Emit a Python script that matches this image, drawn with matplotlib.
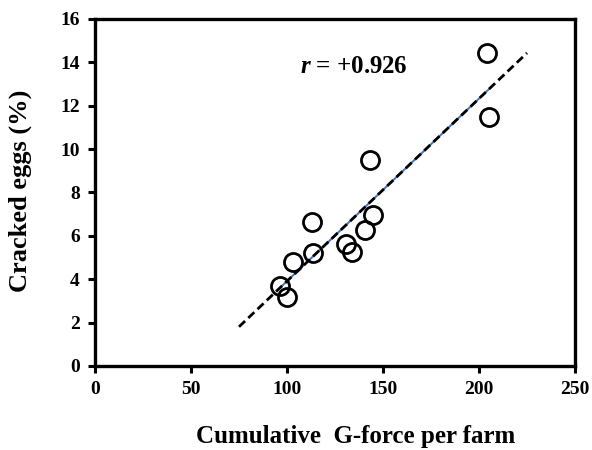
import numpy as np
import matplotlib
matplotlib.use('Agg')
import matplotlib.pyplot as plt

# G-force per farm vs cracked eggs
gforce = [96.4, 100.2, 103.0, 113.7, 112.9, 130.6, 134.0, 140.8, 144.9, 143.2, 204.0, 205.2]
cracked = [3.70, 3.19, 4.81, 5.20, 6.65, 5.61, 5.27, 6.27, 6.96, 9.50, 14.42, 11.47]
trend_x = [75, 225]
r_text = '+0.926'

plt.rcParams['font.family'] = 'Liberation Serif'
plt.rcParams['font.weight'] = 'bold'
plt.rcParams['mathtext.fontset'] = 'custom'
plt.rcParams['mathtext.it'] = 'Liberation Serif:italic:bold'
plt.rcParams['mathtext.rm'] = 'Liberation Serif:bold'

fig = plt.figure(figsize=(5.92, 4.5), dpi=100)
ax = fig.add_axes([0.1605, 0.1867, 0.9713 - 0.1605, 0.9578 - 0.1867])

# trendline (least squares): blue over data range, black dashed extended
slope, icpt = np.polyfit(gforce, cracked, 1)
bx = np.array([min(gforce), max(gforce)])
tx = np.array(trend_x)
ax.plot(bx, slope * bx + icpt, color='#4472C4', lw=1.4, zorder=2)
ax.plot(tx, slope * tx + icpt, color='black', lw=2.0, ls=(0, (3, 1.6)), zorder=3)

ax.plot(gforce, cracked, 'o', mfc='none', mec='black', ms=13, mew=2.0, zorder=4)

ax.text(106.8, 13.83, r'$r$ = ' + r_text, fontsize=18, fontweight='bold',
        ha='left', va='center')

ax.set_xlim(0, 250)
ax.set_ylim(0, 16)
ax.set_xticks(range(0, 251, 50))
ax.set_yticks(range(0, 17, 2))
for s in ax.spines.values():
    s.set_linewidth(2.4)
ax.tick_params(direction='out', length=5, width=2.2, labelsize=14, pad=6)
for lab in ax.get_xticklabels() + ax.get_yticklabels():
    lab.set_fontweight('bold')

ax.set_xlabel('Cumulative  G-force per farm', fontsize=18, fontweight='bold')
ax.xaxis.set_label_coords(0.542, -0.221)
ax.xaxis.label.set_va('baseline')
ax.set_ylabel('Cracked eggs (%)', fontsize=19, fontweight='bold')
ax.yaxis.set_label_coords(-0.156, 0.504)
ax.yaxis.label.set_va('center')

fig.savefig('out.png', dpi=100)
